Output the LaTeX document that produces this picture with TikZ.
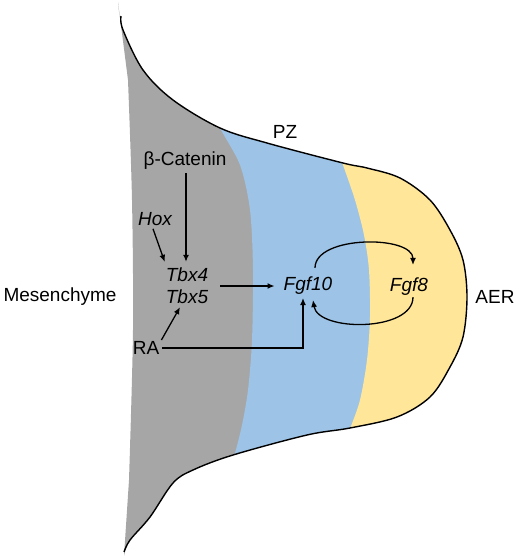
\documentclass[tikz,border=0pt]{standalone}
\usepackage{fontspec}
\setmainfont{Liberation Sans}
\usetikzlibrary{arrows.meta}
\definecolor{limbgray}{HTML}{A6A6A6}
\definecolor{pzblue}{HTML}{9DC3E6}
\definecolor{aeryellow}{HTML}{FFE699}
\begin{document}
\begin{tikzpicture}[x=1pt,y=-1pt,
  lbl/.style={inner sep=3pt, font=\fontsize{19}{22}\selectfont},
  arr/.style={line width=1.3pt, -{Latex[length=7pt,width=6pt]}}]
\useasboundingbox (0,0) rectangle (516,560);
\begin{scope}
\clip plot[smooth,tension=0.55] coordinates {(118,2) (123,30) (143,70) (173,100) (220,128) (267,143) (343,163) (367,168) (400,178) (430,200) (450,230) (463,260) (467,297) (463,337) (450,367) (430,397) (397,417) (350,428) (307,435) (233,455) (193,470) (173,483) (150,517) (130,540) (124,556)}
  -- plot[smooth] coordinates {(129,480) (133,330) (132,200) (128,80)} -- cycle;
\fill[limbgray] (100,0) rectangle (480,560);
\fill[pzblue] plot[smooth] coordinates {(205,95) (220,128) (240,165) (250,210) (253,270) (252,340) (248,390) (242,425) (235,453) (225,485)} -- (480,485) -- (480,95) -- cycle;
\fill[aeryellow] plot[smooth] coordinates {(333,135) (342,162) (355,200) (364,235) (369,270) (370,317) (367,360) (360,400) (350,429) (343,450)} -- (480,450) -- (480,135) -- cycle;
\end{scope}
\draw[line width=1.4pt] plot[smooth,tension=0.55] coordinates {(121,16) (123,30) (143,70) (173,100) (220,128) (267,143) (343,163) (367,168) (400,178) (430,200) (450,230) (463,260) (467,297) (463,337) (450,367) (430,397) (397,417) (350,428) (307,435) (233,455) (193,470) (173,483) (150,517) (130,540) (124,552)};

\node[lbl] (mes) at (60,297) {Mesenchyme};
\node[lbl] (pz) at (285,132) {PZ};
\node[lbl] (aer) at (495,297) {AER};
\node[lbl] (cat) at (185,161) {β-Catenin};
\node[lbl] (hox) at (155,219) {\itshape Hox};
\node[lbl, align=center] (tbx) at (187,286) {\itshape Tbx4\\\itshape Tbx5};
\node[lbl] (ra) at (146,348) {RA};
\node[lbl] (f10) at (308,286) {\itshape Fgf10};
\node[lbl] (f8) at (409,287) {\itshape Fgf8};

\draw[arr] ([xshift=1pt]cat.south) -- ([xshift=-1pt,yshift=3pt]tbx.north);
\draw[arr] ([xshift=-2pt]hox.south) -- ([xshift=2pt,yshift=3pt]tbx.north west);
\draw[arr, shorten <=-2pt] (ra.north east) -- ([xshift=-7pt]tbx.south);
\draw[arr, shorten <=9pt, shorten >=6pt] (tbx.east) -- (f10.west);
\draw[arr] (ra.east) -| ([xshift=-5pt]f10.south);
\draw[arr] ([xshift=7pt,yshift=6pt]f10.north) .. controls (315,235) and (413,235) .. ([xshift=4pt,yshift=10pt]f8.north);
\draw[arr] ([xshift=4pt,yshift=2pt]f8.south) .. controls (413,332) and (318,332) .. ([xshift=5pt,yshift=-2pt]f10.south);
\end{tikzpicture}
\end{document}
